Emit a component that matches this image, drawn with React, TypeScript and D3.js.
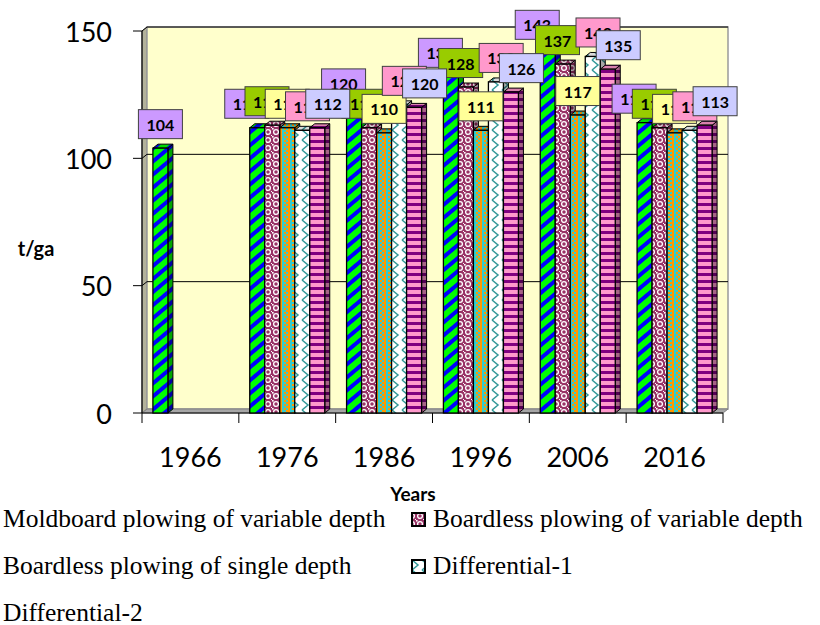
import { useEffect, useRef } from 'react';
import * as d3 from 'd3';

// categories and series (t/ga)
const years = ['1966', '1976', '1986', '1996', '2006', '2016'];
const seriesNames = [
  'Moldboard plowing of variable depth',
  'Boardless plowing of variable depth',
  'Boardless plowing of single depth',
  'Differential-1',
  'Differential-2',
];
const moldboardVariable = [104, 112, 120, 132, 143, 114];
const boardlessVariable = [null, 113, 112, 128, 137, 112];
const boardlessSingle = [null, 112, 110, 111, 117, 110];
const differential1 = [null, 111, 121, 130, 140, 111];
const differential2 = [null, 112, 120, 126, 135, 113];
const yTicks = [0, 50, 100, 150];

const WIDTH = 820;
const HEIGHT = 625;
const DX = 5; // 3d depth offset
const DY = 4;

const labelColors = ['#CC99FF', '#99CC00', '#FFFF99', '#FF99CC', '#CCCCFF'];

function addPatterns(defs: d3.Selection<SVGDefsElement, unknown, null, undefined>) {
  // green with blue diagonal stripes
  const p0 = defs.append('pattern').attr('id', 'pat0').attr('patternUnits', 'userSpaceOnUse')
    .attr('width', 10).attr('height', 10).attr('patternTransform', 'rotate(50)');
  p0.append('rect').attr('width', 10).attr('height', 10).attr('fill', '#00FF00');
  p0.append('rect').attr('width', 4).attr('height', 10).attr('fill', '#0000FF');

  // maroon with white beads
  const p1 = defs.append('pattern').attr('id', 'pat1').attr('patternUnits', 'userSpaceOnUse')
    .attr('width', 8).attr('height', 8);
  p1.append('rect').attr('width', 8).attr('height', 8).attr('fill', '#993366');
  p1.append('circle').attr('cx', 4).attr('cy', 4).attr('r', 2.4)
    .attr('fill', 'none').attr('stroke', '#fff').attr('stroke-width', 1.3);
  p1.append('rect').attr('x', 0).attr('y', 0).attr('width', 1.6).attr('height', 1.6).attr('fill', '#fff');
  p1.append('rect').attr('x', 7).attr('y', 7).attr('width', 1).attr('height', 1).attr('fill', '#fff');

  // turquoise / orange weave
  const p2 = defs.append('pattern').attr('id', 'pat2').attr('patternUnits', 'userSpaceOnUse')
    .attr('width', 8).attr('height', 8);
  p2.append('rect').attr('width', 8).attr('height', 8).attr('fill', '#33CCCC');
  p2.append('rect').attr('x', 0).attr('width', 2).attr('height', 8).attr('fill', '#FF9900');
  [[4, 0], [6, 2], [4, 4], [6, 6]].forEach(([x, y]) => {
    p2.append('rect').attr('x', x).attr('y', y).attr('width', 2).attr('height', 2).attr('fill', '#FF9900');
  });

  // white with teal zigzag
  const p3 = defs.append('pattern').attr('id', 'pat3').attr('patternUnits', 'userSpaceOnUse')
    .attr('width', 10).attr('height', 10);
  p3.append('rect').attr('width', 10).attr('height', 10).attr('fill', '#fff');
  p3.append('path').attr('d', 'M2,0 L8,5 L2,10').attr('fill', 'none')
    .attr('stroke', '#339999').attr('stroke-width', 1.5);

  // pink with purple horizontal stripes
  const p4 = defs.append('pattern').attr('id', 'pat4').attr('patternUnits', 'userSpaceOnUse')
    .attr('width', 6).attr('height', 7);
  p4.append('rect').attr('width', 6).attr('height', 7).attr('fill', '#FF99CC');
  p4.append('rect').attr('width', 6).attr('height', 3).attr('fill', '#800080');
}

export default function App() {
  const svgRef = useRef<SVGSVGElement>(null);

  useEffect(() => {
    const svg = d3.select(svgRef.current);
    svg.selectAll('*').remove();

    const seriesValues = [moldboardVariable, boardlessVariable, boardlessSingle, differential1, differential2];

    const left = 142;
    const right = 723;
    const y0 = 413;

    const x = d3.scaleBand<string>().domain(years).range([left, right]).padding(0);
    const xs = d3.scaleBand<number>().domain(d3.range(seriesValues.length))
      .range([0, x.bandwidth()]).paddingInner(0).paddingOuter(0.727);
    const y = d3.scaleLinear().domain([0, 150]).range([y0, 31]);

    const defs = svg.append('defs');
    addPatterns(defs);

    // walls
    const top = y(150);
    svg.append('polygon')
      .attr('points', `${left},${top} ${left + DX},${top - DY} ${left + DX},${y0 - DY} ${left},${y0}`)
      .attr('fill', '#B3B29A').attr('stroke', '#808080').attr('stroke-width', 1);
    svg.append('rect')
      .attr('x', left + DX).attr('y', top - DY)
      .attr('width', right - left).attr('height', y0 - top)
      .attr('fill', '#FFFFCC').attr('stroke', '#9A9A9A').attr('stroke-width', 1.5);
    svg.append('polygon')
      .attr('points', `${left},${y0} ${left + DX},${y0 - DY} ${right + DX},${y0 - DY} ${right},${y0}`)
      .attr('fill', '#A6A6A6').attr('stroke', '#808080').attr('stroke-width', 1);

    // gridlines
    yTicks.filter(t => t > 0).forEach(t => {
      const yy = y(t);
      svg.append('path')
        .attr('d', `M${left},${yy} L${left + DX},${yy - DY} L${right + DX},${yy - DY}`)
        .attr('fill', 'none').attr('stroke', '#000').attr('stroke-width', 1);
    });

    // axes
    svg.append('line').attr('x1', left).attr('x2', left).attr('y1', top).attr('y2', y0)
      .attr('stroke', '#000').attr('stroke-width', 1.2);
    svg.append('line').attr('x1', left).attr('x2', right).attr('y1', y0).attr('y2', y0)
      .attr('stroke', '#000').attr('stroke-width', 1.2);
    yTicks.forEach(t => {
      svg.append('line').attr('x1', left - 9).attr('x2', left).attr('y1', y(t)).attr('y2', y(t))
        .attr('stroke', '#000');
      svg.append('text').attr('x', 112).attr('y', y(t)).attr('text-anchor', 'end')
        .attr('dominant-baseline', 'central')
        .attr('font-family', 'Lato, sans-serif').attr('font-size', 27).text(t);
    });
    d3.range(years.length + 1).forEach(i => {
      const xx = left + i * x.step();
      svg.append('line').attr('x1', xx).attr('x2', xx).attr('y1', y0).attr('y2', y0 + 10)
        .attr('stroke', '#000');
    });
    years.forEach(yr => {
      svg.append('text').attr('x', (x(yr) as number) + x.bandwidth() / 2).attr('y', 467)
        .attr('text-anchor', 'middle').attr('font-family', 'Lato, sans-serif')
        .attr('font-size', 27).text(yr);
    });

    // 3d bars
    const w = xs.bandwidth();
    const bars = svg.append('g');
    years.forEach((yr, ci) => {
      seriesValues.forEach((vals, si) => {
        const v = vals[ci];
        if (v == null) return;
        const bx = (x(yr) as number) + (xs(si) as number);
        const yt = y(v);
        const g = bars.append('g');
        const side = `${bx + w},${yt} ${bx + w + DX},${yt - DY} ${bx + w + DX},${y0 - DY} ${bx + w},${y0}`;
        const topFace = `${bx},${yt} ${bx + DX},${yt - DY} ${bx + w + DX},${yt - DY} ${bx + w},${yt}`;
        g.append('polygon').attr('points', side).attr('fill', `url(#pat${si})`);
        g.append('polygon').attr('points', side).attr('fill', 'rgba(0,0,0,0.35)')
          .attr('stroke', '#000').attr('stroke-width', 1);
        g.append('polygon').attr('points', topFace).attr('fill', `url(#pat${si})`);
        g.append('polygon').attr('points', topFace).attr('fill', 'rgba(0,0,0,0.15)')
          .attr('stroke', '#000').attr('stroke-width', 1);
        g.append('rect').attr('x', bx).attr('y', yt).attr('width', w).attr('height', y0 - yt)
          .attr('fill', `url(#pat${si})`).attr('stroke', '#000').attr('stroke-width', 1.3);
      });
    });

    // data labels, series by series
    const labels = svg.append('g');
    seriesValues.forEach((vals, si) => {
      years.forEach((yr, ci) => {
        const v = vals[ci];
        if (v == null) return;
        const present = seriesValues.map((s, k) => (s[ci] == null ? null : k)).filter(k => k != null) as number[];
        const centers = present.map(k => (x(yr) as number) + (xs(k) as number) + w / 2);
        const groupCenter = d3.mean(centers) as number;
        const bc = (x(yr) as number) + (xs(si) as number) + w / 2;
        const lx = bc + (bc - groupCenter) * 0.35;
        const ly = y(v) - 24;
        const bw = 44;
        const bh = 29;
        labels.append('rect').attr('x', lx - bw / 2).attr('y', ly - bh / 2)
          .attr('width', bw).attr('height', bh).attr('fill', labelColors[si])
          .attr('stroke', '#404040').attr('stroke-width', 1);
        labels.append('text').attr('x', lx).attr('y', ly).attr('text-anchor', 'middle')
          .attr('dominant-baseline', 'central').attr('font-family', 'Lato, sans-serif')
          .attr('font-weight', 'bold').attr('font-size', 16).text(v);
      });
    });

    // axis titles
    svg.append('text').attr('x', 36).attr('y', 256).attr('text-anchor', 'middle')
      .attr('font-family', 'Lato, sans-serif').attr('font-weight', 'bold').attr('font-size', 20)
      .text('t/ga');
    svg.append('text').attr('x', 413).attr('y', 501).attr('text-anchor', 'middle')
      .attr('font-family', 'Lato, sans-serif').attr('font-weight', 'bold').attr('font-size', 19)
      .text('Years');

    // legend, two columns (left markers fall outside the page)
    const legend = svg.append('g');
    seriesNames.forEach((name, i) => {
      const col = i % 2;
      const row = Math.floor(i / 2);
      const baseline = 527 + row * 47;
      const tx = col === 0 ? 3 : 433;
      const mx = tx - 21;
      legend.append('rect').attr('x', mx).attr('y', baseline - 14).attr('width', 13).attr('height', 13)
        .attr('fill', `url(#pat${i})`).attr('stroke', '#000').attr('stroke-width', 2);
      legend.append('text').attr('x', tx).attr('y', baseline)
        .attr('font-family', '"Liberation Serif", "Times New Roman", serif').attr('font-size', 25.5)
        .text(name);
    });
  }, []);

  return (
    <svg
      ref={svgRef}
      width={WIDTH}
      height={HEIGHT}
      style={{ position: 'absolute', left: 0, top: 0, background: '#fff' }}
    />
  );
}
